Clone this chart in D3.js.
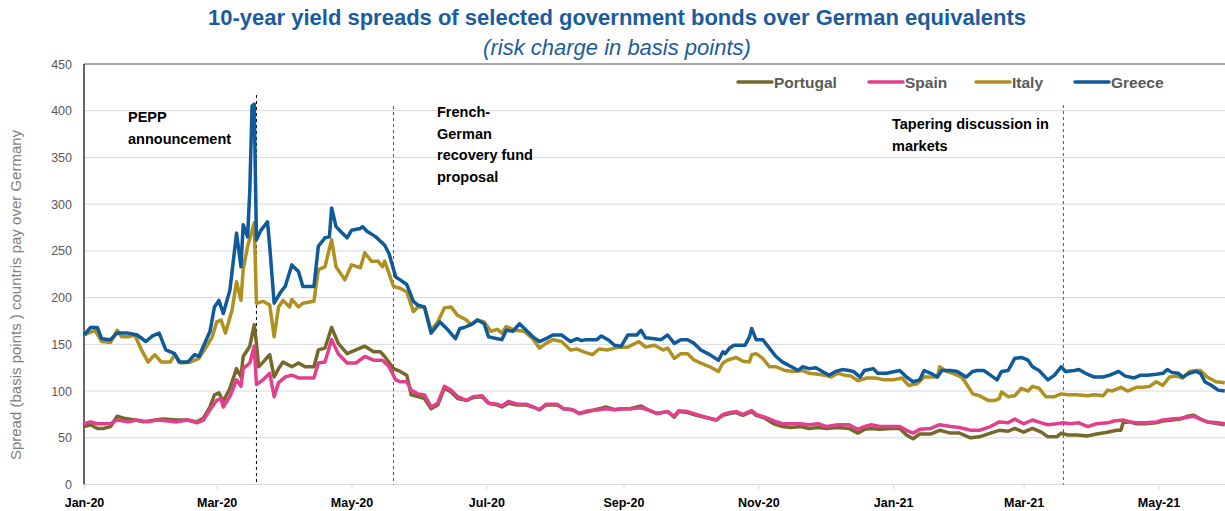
<!DOCTYPE html>
<html>
<head>
<meta charset="utf-8">
<script src="https://cdn.jsdelivr.net/npm/d3@7"></script>
<style>
  body { margin: 0; background: #fff; }
  svg { display: block; font-family: "Liberation Sans", Arial, sans-serif; }
</style>
</head>
<body>
<svg id="chart" width="1225" height="511"></svg>
<script>
// spreads in basis points
const portugal = [
  ["2020-01-01",62],["2020-01-04",64],["2020-01-07",60],["2020-01-10",60],["2020-01-13",62],["2020-01-16",73],
  ["2020-01-19",71],["2020-01-24",69],["2020-01-28",67],["2020-02-02",69],["2020-02-06",70],["2020-02-12",69],
  ["2020-02-17",69],["2020-02-21",67],["2020-02-24",71],["2020-02-27",83],["2020-02-29",96],["2020-03-02",98],
  ["2020-03-04",89],["2020-03-07",103],["2020-03-10",124],["2020-03-12",115],["2020-03-13",137],["2020-03-16",148],
  ["2020-03-18",171],["2020-03-19",151],["2020-03-20",126],["2020-03-22",131],["2020-03-25",139],["2020-03-27",115],
  ["2020-03-29",124],["2020-03-31",131],["2020-04-04",126],["2020-04-07",130],["2020-04-10",126],["2020-04-14",126],
  ["2020-04-16",144],["2020-04-19",146],["2020-04-22",168],["2020-04-25",151],["2020-04-29",140],["2020-05-03",144],
  ["2020-05-07",148],["2020-05-11",142],["2020-05-14",142],["2020-05-16",137],["2020-05-20",124],["2020-05-23",121],
  ["2020-05-26",117],["2020-05-28",96],["2020-05-31",94],["2020-06-03",92],["2020-06-06",81],["2020-06-09",85],
  ["2020-06-12",103],["2020-06-15",99],["2020-06-18",92],["2020-06-22",90],["2020-06-25",93],["2020-06-29",94],
  ["2020-07-02",87],["2020-07-06",85],["2020-07-08",83],["2020-07-11",87],["2020-07-15",85],["2020-07-19",85],
  ["2020-07-22",83],["2020-07-25",80],["2020-07-28",85],["2020-08-02",85],["2020-08-05",81],["2020-08-09",80],
  ["2020-08-12",76],["2020-08-16",78],["2020-08-21",81],["2020-08-24",83],["2020-08-28",80],["2020-08-31",81],
  ["2020-09-04",81],["2020-09-09",84],["2020-09-12",80],["2020-09-16",76],["2020-09-21",78],["2020-09-24",72],
  ["2020-09-26",78],["2020-09-30",77],["2020-10-04",74],["2020-10-08",72],["2020-10-13",69],["2020-10-16",74],
  ["2020-10-19",76],["2020-10-22",77],["2020-10-25",74],["2020-10-29",78],["2020-10-31",74],["2020-11-04",71],
  ["2020-11-08",65],["2020-11-12",62],["2020-11-16",61],["2020-11-20",62],["2020-11-24",60],["2020-11-28",61],
  ["2020-12-02",60],["2020-12-07",61],["2020-12-12",60],["2020-12-16",55],["2020-12-19",59],["2020-12-22",60],
  ["2020-12-26",59],["2020-12-31",60],["2021-01-04",60],["2021-01-07",53],["2021-01-10",49],["2021-01-13",54],
  ["2021-01-18",54],["2021-01-22",58],["2021-01-27",55],["2021-01-31",55],["2021-02-05",50],["2021-02-09",51],
  ["2021-02-14",55],["2021-02-18",58],["2021-02-22",57],["2021-02-25",60],["2021-03-01",56],["2021-03-05",60],
  ["2021-03-09",56],["2021-03-12",51],["2021-03-16",51],["2021-03-18",55],["2021-03-21",53],["2021-03-25",53],
  ["2021-03-30",52],["2021-04-03",54],["2021-04-08",56],["2021-04-12",58],["2021-04-14",58],["2021-04-15",66],
  ["2021-04-18",67],["2021-04-21",65],["2021-04-25",65],["2021-04-30",66],["2021-05-03",68],["2021-05-07",69],
  ["2021-05-11",70],["2021-05-14",73],["2021-05-17",74],["2021-05-20",70],["2021-05-23",67],["2021-05-28",65],
  ["2021-05-31",64]
];

const spain = [
  ["2020-01-01",65],["2020-01-04",67],["2020-01-07",65],["2020-01-10",65],["2020-01-13",65],["2020-01-16",69],
  ["2020-01-21",67],["2020-01-25",69],["2020-01-30",67],["2020-02-03",69],["2020-02-08",68],["2020-02-12",67],
  ["2020-02-17",69],["2020-02-21",66],["2020-02-24",69],["2020-02-27",80],["2020-03-01",90],["2020-03-03",92],
  ["2020-03-04",83],["2020-03-07",94],["2020-03-10",112],["2020-03-12",105],["2020-03-13",124],["2020-03-16",130],
  ["2020-03-18",148],["2020-03-19",107],["2020-03-22",112],["2020-03-25",119],["2020-03-27",94],["2020-03-29",109],
  ["2020-04-01",115],["2020-04-04",117],["2020-04-07",114],["2020-04-10",114],["2020-04-14",114],["2020-04-16",130],
  ["2020-04-19",131],["2020-04-22",155],["2020-04-25",140],["2020-04-29",130],["2020-05-03",130],["2020-05-07",137],
  ["2020-05-11",133],["2020-05-15",133],["2020-05-18",126],["2020-05-21",112],["2020-05-23",110],["2020-05-26",110],
  ["2020-05-28",101],["2020-05-31",97],["2020-06-03",96],["2020-06-06",83],["2020-06-09",87],["2020-06-12",105],
  ["2020-06-15",101],["2020-06-18",94],["2020-06-22",90],["2020-06-25",94],["2020-06-29",95],["2020-07-02",87],
  ["2020-07-06",86],["2020-07-08",84],["2020-07-11",89],["2020-07-15",86],["2020-07-19",86],["2020-07-22",83],
  ["2020-07-25",80],["2020-07-28",86],["2020-08-02",86],["2020-08-05",81],["2020-08-09",80],["2020-08-12",76],
  ["2020-08-16",79],["2020-08-21",80],["2020-08-24",81],["2020-08-28",80],["2020-08-31",81],["2020-09-04",81],
  ["2020-09-09",82],["2020-09-12",80],["2020-09-16",76],["2020-09-21",78],["2020-09-24",73],["2020-09-26",79],
  ["2020-09-30",78],["2020-10-04",75],["2020-10-08",72],["2020-10-13",69],["2020-10-16",75],["2020-10-19",77],
  ["2020-10-22",78],["2020-10-25",75],["2020-10-29",79],["2020-10-31",75],["2020-11-04",72],["2020-11-08",68],
  ["2020-11-12",65],["2020-11-16",65],["2020-11-20",65],["2020-11-24",64],["2020-11-28",65],["2020-12-02",62],
  ["2020-12-07",64],["2020-12-12",64],["2020-12-16",59],["2020-12-19",62],["2020-12-22",64],["2020-12-26",62],
  ["2020-12-31",62],["2021-01-04",62],["2021-01-07",58],["2021-01-10",55],["2021-01-13",59],["2021-01-18",60],
  ["2021-01-22",64],["2021-01-27",62],["2021-01-31",61],["2021-02-05",58],["2021-02-09",58],["2021-02-14",62],
  ["2021-02-18",67],["2021-02-22",66],["2021-02-25",70],["2021-03-01",65],["2021-03-05",69],["2021-03-09",66],
  ["2021-03-12",64],["2021-03-16",65],["2021-03-19",66],["2021-03-22",65],["2021-03-26",66],["2021-03-30",62],
  ["2021-04-03",65],["2021-04-08",66],["2021-04-11",68],["2021-04-15",69],["2021-04-18",67],["2021-04-21",66],
  ["2021-04-25",66],["2021-04-30",67],["2021-05-03",69],["2021-05-07",70],["2021-05-11",71],["2021-05-14",72],
  ["2021-05-17",73],["2021-05-20",70],["2021-05-23",67],["2021-05-28",66],["2021-05-31",65]
];

const italy = [
  ["2020-01-01",160],["2020-01-06",165],["2020-01-09",153],["2020-01-13",152],["2020-01-16",165],["2020-01-18",158],
  ["2020-01-21",158],["2020-01-24",160],["2020-01-27",144],["2020-01-30",131],["2020-02-02",139],["2020-02-05",131],
  ["2020-02-09",131],["2020-02-11",139],["2020-02-14",130],["2020-02-18",131],["2020-02-22",135],["2020-02-25",146],
  ["2020-02-28",158],["2020-03-01",174],["2020-03-03",176],["2020-03-05",162],["2020-03-08",187],["2020-03-10",217],
  ["2020-03-12",197],["2020-03-13",230],["2020-03-15",255],["2020-03-18",280],["2020-03-19",194],["2020-03-22",196],
  ["2020-03-25",192],["2020-03-27",158],["2020-03-29",190],["2020-03-31",197],["2020-04-03",190],["2020-04-04",198],
  ["2020-04-07",190],["2020-04-09",194],["2020-04-14",196],["2020-04-16",230],["2020-04-19",233],["2020-04-22",262],
  ["2020-04-24",233],["2020-04-28",219],["2020-05-01",235],["2020-05-05",232],["2020-05-07",248],["2020-05-10",239],
  ["2020-05-13",239],["2020-05-15",233],["2020-05-16",239],["2020-05-20",212],["2020-05-23",210],["2020-05-26",206],
  ["2020-05-29",185],["2020-05-31",190],["2020-06-03",190],["2020-06-06",165],["2020-06-09",174],["2020-06-12",189],
  ["2020-06-15",190],["2020-06-18",181],["2020-06-22",176],["2020-06-24",171],["2020-06-27",176],["2020-06-30",174],
  ["2020-07-03",164],["2020-07-06",166],["2020-07-08",162],["2020-07-10",169],["2020-07-14",165],["2020-07-18",164],
  ["2020-07-22",156],["2020-07-25",146],["2020-07-28",151],["2020-07-31",155],["2020-08-04",153],["2020-08-08",144],
  ["2020-08-11",145],["2020-08-14",142],["2020-08-18",139],["2020-08-21",145],["2020-08-25",144],["2020-08-28",146],
  ["2020-08-31",147],["2020-09-03",147],["2020-09-08",153],["2020-09-11",147],["2020-09-15",149],["2020-09-19",144],
  ["2020-09-21",146],["2020-09-24",135],["2020-09-27",140],["2020-09-30",140],["2020-10-03",133],["2020-10-06",130],
  ["2020-10-10",126],["2020-10-14",121],["2020-10-16",130],["2020-10-18",133],["2020-10-22",136],["2020-10-25",132],
  ["2020-10-28",131],["2020-10-29",139],["2020-10-31",140],["2020-11-03",135],["2020-11-06",126],["2020-11-09",126],
  ["2020-11-13",122],["2020-11-17",121],["2020-11-21",122],["2020-11-24",119],["2020-11-28",118],["2020-12-01",117],
  ["2020-12-04",115],["2020-12-07",119],["2020-12-10",117],["2020-12-13",116],["2020-12-16",111],["2020-12-20",114],
  ["2020-12-24",114],["2020-12-28",112],["2021-01-01",112],["2021-01-05",114],["2021-01-08",106],["2021-01-12",108],
  ["2021-01-15",115],["2021-01-18",115],["2021-01-21",115],["2021-01-22",126],["2021-01-25",121],["2021-01-28",119],
  ["2021-02-01",115],["2021-02-03",108],["2021-02-06",97],["2021-02-09",95],["2021-02-13",90],["2021-02-16",90],
  ["2021-02-18",92],["2021-02-19",99],["2021-02-22",94],["2021-02-25",95],["2021-02-28",103],["2021-03-03",100],
  ["2021-03-05",105],["2021-03-08",103],["2021-03-11",94],["2021-03-15",94],["2021-03-18",97],["2021-03-21",96],
  ["2021-03-25",96],["2021-03-30",95],["2021-04-02",96],["2021-04-06",95],["2021-04-08",101],["2021-04-10",100],
  ["2021-04-14",104],["2021-04-17",100],["2021-04-21",104],["2021-04-24",104],["2021-04-27",105],["2021-04-30",110],
  ["2021-05-03",106],["2021-05-06",115],["2021-05-09",116],["2021-05-12",114],["2021-05-15",121],["2021-05-18",122],
  ["2021-05-20",122],["2021-05-23",115],["2021-05-27",110],["2021-05-31",109]
];

const greece = [
  ["2020-01-01",160],["2020-01-04",168],["2020-01-07",168],["2020-01-09",156],["2020-01-13",155],["2020-01-16",162],
  ["2020-01-21",162],["2020-01-25",160],["2020-01-29",153],["2020-02-01",159],["2020-02-04",162],["2020-02-07",144],
  ["2020-02-11",140],["2020-02-13",131],["2020-02-17",131],["2020-02-20",139],["2020-02-22",137],["2020-02-24",148],
  ["2020-02-27",164],["2020-02-29",190],["2020-03-02",197],["2020-03-04",183],["2020-03-07",208],["2020-03-10",269],
  ["2020-03-12",233],["2020-03-13",278],["2020-03-15",265],["2020-03-16",315],["2020-03-17",405],["2020-03-18",407],
  ["2020-03-19",262],["2020-03-21",272],["2020-03-24",281],["2020-03-25",255],["2020-03-27",194],["2020-03-30",206],
  ["2020-04-01",212],["2020-04-04",235],["2020-04-07",228],["2020-04-09",212],["2020-04-14",212],["2020-04-16",255],
  ["2020-04-19",264],["2020-04-21",265],["2020-04-22",296],["2020-04-24",276],["2020-04-26",271],["2020-04-29",264],
  ["2020-05-01",272],["2020-05-05",274],["2020-05-06",276],["2020-05-08",271],["2020-05-12",265],["2020-05-16",256],
  ["2020-05-18",247],["2020-05-21",222],["2020-05-23",219],["2020-05-26",214],["2020-05-29",196],["2020-05-31",192],
  ["2020-06-03",190],["2020-06-06",162],["2020-06-10",174],["2020-06-13",167],["2020-06-17",156],["2020-06-19",167],
  ["2020-06-21",168],["2020-06-24",171],["2020-06-27",176],["2020-06-30",172],["2020-07-02",158],["2020-07-06",156],
  ["2020-07-08",155],["2020-07-10",165],["2020-07-13",164],["2020-07-16",172],["2020-07-19",165],["2020-07-22",158],
  ["2020-07-25",153],["2020-07-28",156],["2020-07-31",160],["2020-08-04",160],["2020-08-08",153],["2020-08-11",156],
  ["2020-08-13",154],["2020-08-15",155],["2020-08-20",155],["2020-08-22",159],["2020-08-25",155],["2020-08-28",149],
  ["2020-08-31",148],["2020-09-03",160],["2020-09-07",160],["2020-09-09",165],["2020-09-11",157],["2020-09-15",156],
  ["2020-09-18",155],["2020-09-21",160],["2020-09-24",151],["2020-09-27",155],["2020-09-30",155],["2020-10-03",151],
  ["2020-10-06",144],["2020-10-10",139],["2020-10-14",133],["2020-10-16",142],["2020-10-17",140],["2020-10-19",146],
  ["2020-10-21",149],["2020-10-26",149],["2020-10-28",158],["2020-10-29",167],["2020-10-31",155],["2020-11-03",155],
  ["2020-11-06",146],["2020-11-09",137],["2020-11-12",131],["2020-11-16",126],["2020-11-19",122],["2020-11-21",126],
  ["2020-11-24",124],["2020-11-27",125],["2020-11-30",121],["2020-12-03",117],["2020-12-06",121],["2020-12-09",123],
  ["2020-12-12",122],["2020-12-14",121],["2020-12-17",115],["2020-12-19",122],["2020-12-23",124],["2020-12-25",119],
  ["2020-12-29",119],["2021-01-04",122],["2021-01-07",115],["2021-01-10",110],["2021-01-13",112],["2021-01-15",122],
  ["2021-01-18",119],["2021-01-21",115],["2021-01-23",122],["2021-01-27",122],["2021-01-30",121],["2021-02-03",115],
  ["2021-02-06",121],["2021-02-08",122],["2021-02-11",122],["2021-02-14",117],["2021-02-17",112],["2021-02-19",121],
  ["2021-02-22",122],["2021-02-25",135],["2021-02-28",136],["2021-03-03",133],["2021-03-05",126],["2021-03-08",122],
  ["2021-03-12",112],["2021-03-15",117],["2021-03-18",126],["2021-03-20",121],["2021-03-24",122],["2021-03-26",123],
  ["2021-03-29",119],["2021-04-02",115],["2021-04-06",115],["2021-04-09",117],["2021-04-13",121],["2021-04-16",116],
  ["2021-04-20",114],["2021-04-23",117],["2021-04-26",117],["2021-04-30",118],["2021-05-03",119],["2021-05-05",123],
  ["2021-05-07",120],["2021-05-10",119],["2021-05-12",115],["2021-05-15",119],["2021-05-18",121],["2021-05-20",119],
  ["2021-05-22",110],["2021-05-25",106],["2021-05-28",101],["2021-05-31",100]
];

const countries = ["Portugal", "Spain", "Italy", "Greece"];
const seriesList = [portugal, spain, italy, greece];
const colors = ["#76682A", "#E2408C", "#AF9020", "#0E5A9B"];

const yTicks = [0, 50, 100, 150, 200, 250, 300, 350, 400, 450];

// event markers: date, label lines, label x, first baseline, line top, line colour
const events = [
  { date: "2020-03-19", lines: ["PEPP", "announcement"], lx: 128, ly: 122, top: 95, stroke: "#000" },
  { date: "2020-05-20", lines: ["French-", "German", "recovery fund", "proposal"], lx: 437, ly: 117, top: 106, stroke: "#555" },
  { date: "2021-03-19", lines: ["Tapering discussion in", "markets"], lx: 892, ly: 129, top: 105, stroke: "#555" }
];

const parse = d3.timeParse("%Y-%m-%d");
const svg = d3.select("#chart");

const x = d3.scaleTime()
  .domain([parse("2020-01-01"), parse("2021-06-01")])
  .range([84, 1227]);
const y = d3.scaleLinear().domain([0, 450]).range([484.5, 64]);

// title
svg.append("text")
  .attr("x", 617).attr("y", 25)
  .attr("text-anchor", "middle")
  .style("font-size", "22px").style("font-weight", "bold")
  .attr("fill", "#1B5C9E")
  .text("10-year yield spreads of selected government bonds over German equivalents");

svg.append("text")
  .attr("x", 617).attr("y", 55)
  .attr("text-anchor", "middle")
  .style("font-size", "22px").style("font-style", "italic")
  .attr("fill", "#1B5C9E")
  .text("(risk charge in basis points)");

// gridlines
svg.append("g")
  .selectAll("line")
  .data(yTicks)
  .join("line")
  .attr("x1", 84).attr("x2", 1225)
  .attr("y1", d => y(d)).attr("y2", d => y(d))
  .attr("stroke", d => d === 450 ? "#8a8a8a" : "#d9d9d9")
  .attr("stroke-width", d => d === 450 ? 1.5 : 1);

// y tick labels
svg.append("g")
  .selectAll("text")
  .data(yTicks)
  .join("text")
  .attr("x", 72).attr("y", d => y(d) + 4.5)
  .attr("text-anchor", "end")
  .style("font-size", "12.5px")
  .attr("fill", "#595959")
  .text(d => d);

// y axis title
svg.append("text")
  .attr("transform", "translate(21,295) rotate(-90)")
  .attr("text-anchor", "middle")
  .style("font-size", "15px")
  .attr("fill", "#808080")
  .text("Spread (basis points ) countris pay over Germany");

// x axis
const xAxis = svg.append("g")
  .attr("transform", "translate(0,484.5)")
  .call(d3.axisBottom(x)
    .ticks(d3.timeMonth.every(2))
    .tickFormat(d3.timeFormat("%b-%y"))
    .tickSize(5)
    .tickPadding(9));
xAxis.select(".domain").remove();
xAxis.selectAll(".tick line").attr("stroke", "#d9d9d9");
xAxis.selectAll(".tick text")
  .attr("fill", "#000")
  .style("font-size", "12.5px")
  .style("font-weight", "bold")
  .style("font-family", "'Liberation Sans', Arial, sans-serif");

// left axis line
svg.append("line")
  .attr("x1", 84).attr("x2", 84)
  .attr("y1", 64).attr("y2", 484.5)
  .attr("stroke", "#000").attr("stroke-width", 1.2);

// event lines + labels
events.forEach(ev => {
  const ex = x(parse(ev.date));
  svg.append("line")
    .attr("x1", ex).attr("x2", ex)
    .attr("y1", ev.top).attr("y2", 484.5)
    .attr("stroke", ev.stroke)
    .attr("stroke-width", 1)
    .attr("stroke-dasharray", "3,3");
  const t = svg.append("text")
    .attr("x", ev.lx).attr("y", ev.ly)
    .style("font-size", "14.5px").style("font-weight", "bold")
    .attr("fill", "#000");
  ev.lines.forEach((ln, i) => {
    t.append("tspan").attr("x", ev.lx).attr("dy", i === 0 ? 0 : 21.5).text(ln);
  });
});

// lines
const line = d3.line()
  .x(d => x(parse(d[0])))
  .y(d => y(d[1]));

svg.append("g")
  .selectAll("path")
  .data(seriesList)
  .join("path")
  .attr("d", line)
  .attr("fill", "none")
  .attr("stroke", (d, i) => colors[i])
  .attr("stroke-width", 3.5)
  .attr("stroke-linejoin", "round");

// legend
const legendX = [738, 869, 976, 1075];
const legend = svg.append("g")
  .selectAll("g")
  .data(countries)
  .join("g")
  .attr("transform", (d, i) => `translate(${legendX[i]},82)`);
legend.append("line")
  .attr("x1", 0).attr("x2", 34)
  .attr("stroke", (d, i) => colors[i])
  .attr("stroke-width", 3.5)
  .attr("stroke-linecap", "round");
legend.append("text")
  .attr("x", 36).attr("y", 5.5)
  .style("font-size", "15.5px").style("font-weight", "bold")
  .attr("fill", "#595959")
  .text(d => d);
</script>
</body>
</html>
